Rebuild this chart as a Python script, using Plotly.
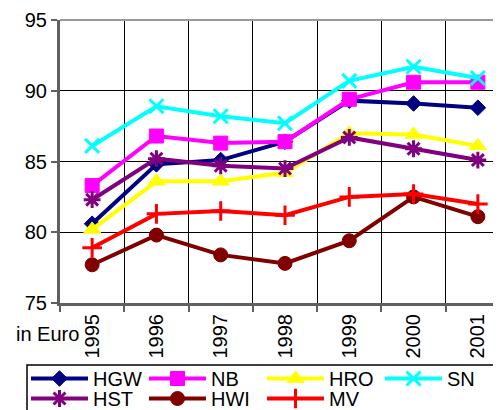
import plotly.graph_objects as go

years = ["1995", "1996", "1997", "1998", "1999", "2000", "2001"]
hgw = [80.6, 84.8, 85.1, 86.4, 89.3, 89.1, 88.8]
nb = [83.3, 86.8, 86.3, 86.4, 89.4, 90.6, 90.6]
hro = [80.2, 83.6, 83.6, 84.2, 87.0, 86.9, 86.1]
sn = [86.1, 88.9, 88.2, 87.7, 90.7, 91.7, 90.9]
hst = [82.3, 85.2, 84.7, 84.5, 86.7, 85.9, 85.1]
hwi = [77.7, 79.8, 78.4, 77.8, 79.4, 82.5, 81.1]
mv = [78.9, 81.3, 81.5, 81.2, 82.5, 82.7, 82.0]

series = [
    ("HGW", hgw, "#000080", "diamond", 12, 1, "legend"),
    ("NB", nb, "#FF00FF", "square", 14, 1, "legend"),
    ("HRO", hro, "#FFFF00", "triangle-up", 15, 1, "legend"),
    ("SN", sn, "#00FFFF", "x-thin-open", 14, 3, "legend"),
    ("HST", hst, "#800080", "asterisk-open", 14, 3, "legend2"),
    ("HWI", hwi, "#800000", "circle", 14, 1, "legend2"),
    ("MV", mv, "#FF0000", "cross-thin-open", 14, 3, "legend2"),
]

FONT = "Liberation Sans, Arial, sans-serif"
OFF = 8  # page body margin
W, H = 501 - OFF, 410 - OFF
L, T, R = 60 - OFF, 20 - OFF, 0
B = H - (303 - OFF)
pw, ph = W - L - R, H - T - B

fig = go.Figure()
for name, vals, col, sym, sz, lw, lg in series:
    fig.add_trace(go.Scatter(
        x=years, y=vals, name=name, mode="lines+markers",
        line=dict(color=col, width=4),
        marker=dict(symbol=sym, size=sz, color=col, line=dict(width=lw, color=col)),
        legend=lg,
    ))

def fx(p):  # window pixel -> paper x
    return (p - OFF - L) / pw

def fy(p):  # window pixel -> paper y
    return (H - B - (p - OFF)) / ph

leg_common = dict(
    orientation="h", xanchor="left", yanchor="top",
    bgcolor="rgba(0,0,0,0)", borderwidth=0,
    font=dict(size=20, family=FONT, color="black"),
    itemwidth=57, entrywidth=46, entrywidthmode="pixels",
    tracegroupgap=0,
)

fig.update_layout(
    width=W, height=H,
    margin=dict(l=L, r=R, t=T, b=B, autoexpand=False),
    paper_bgcolor="white", plot_bgcolor="white",
    font=dict(family=FONT, size=20, color="black"),
    showlegend=True,
    legend=dict(x=fx(26), y=fy(359), **leg_common),
    legend2=dict(x=fx(26), y=fy(379), **leg_common),
    xaxis=dict(
        type="category", range=[-0.5, 6.36],
        tickson="boundaries", ticks="outside", ticklen=6, tickcolor="#606060", tickwidth=2,
        tickangle=-90, tickfont=dict(size=20, family=FONT),
        showgrid=True, gridcolor="black", gridwidth=1,
        showline=True, linecolor="#606060", linewidth=3,
    ),
    yaxis=dict(
        range=[75, 95], dtick=5, tick0=75,
        ticks="outside", ticklen=6, tickcolor="#606060", tickwidth=2,
        tickfont=dict(size=20, family=FONT),
        showgrid=True, gridcolor="black", gridwidth=1,
        showline=True, linecolor="#606060", linewidth=3, zeroline=False,
    ),
    shapes=[
        dict(type="line", xref="paper", yref="paper", x0=0, x1=1.02, y0=1, y1=1,
             line=dict(color="#999999", width=2), layer="above"),
        dict(type="rect", xref="paper", yref="paper",
             x0=fx(27), x1=fx(520), y0=fy(365), y1=fy(430),
             fillcolor="white", line=dict(color="black", width=1.5), layer="above"),
    ],
    annotations=[
        dict(text="in Euro", xref="paper", yref="paper", x=fx(14), y=fy(334),
             xanchor="left", yanchor="middle", showarrow=False,
             font=dict(size=20, family=FONT, color="black")),
    ],
)

fig.write_html("out.html")
